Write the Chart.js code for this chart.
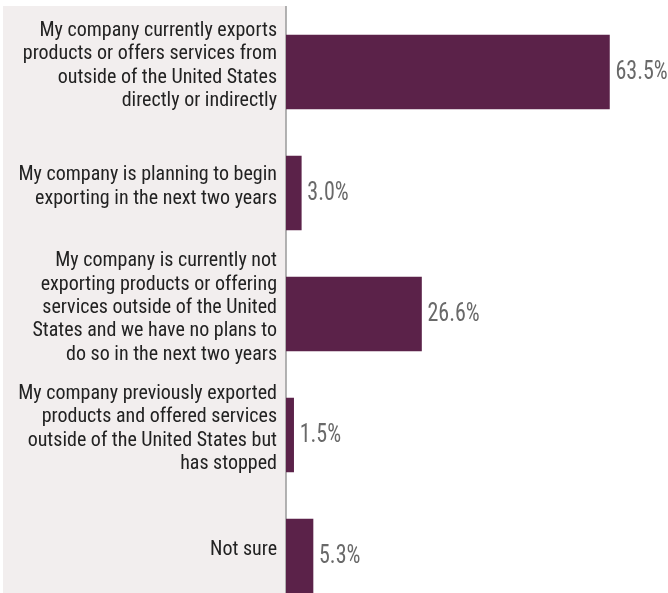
<!DOCTYPE html>
<html>
<head>
<meta charset="utf-8">
<script src="https://cdn.jsdelivr.net/npm/chart.js@4.4.1/dist/chart.umd.min.js"></script>
<style>
  html, body { margin: 0; padding: 0; background: #fff; overflow: hidden; }
  canvas { display: block; }
</style>
</head>
<body>
<canvas id="graph1" width="668" height="620"></canvas>
<script>
// survey answers, one array of lines per bar
const categories = [
  ["My company currently exports", "products or offers services from", "outside of the United States", "directly or indirectly"],
  ["My company is planning to begin", "exporting in the next two years"],
  ["My company is currently not", "exporting products or offering", "services outside of the United", "States and we have no plans to", "do so in the next two years"],
  ["My company previously exported", "products and offered services", "outside of the United States but", "has stopped"],
  ["Not sure"],
];
const shares = [63.5, 3.0, 26.6, 1.5, 5.3];

const barColor = "#5b2249";
const panelColor = "#f2eeee";
const fontFamily = "'Liberation Sans Narrow', 'Roboto Condensed', Roboto, sans-serif";

// grey panel behind the labels + the axis line
const panelPlugin = {
  id: "panel",
  beforeDraw(chart) {
    const ctx = chart.ctx;
    const area = chart.chartArea;
    ctx.save();
    ctx.fillStyle = panelColor;
    ctx.fillRect(3, 6, area.left - 3, chart.height - 6);
    ctx.strokeStyle = "#9a9a9a";
    ctx.lineWidth = 1.5;
    ctx.beginPath();
    ctx.moveTo(area.left, 6);
    ctx.lineTo(area.left, chart.height);
    ctx.stroke();
    ctx.restore();
  },
};

// percentage next to each bar (squeezed a bit, the face is condensed)
const valuePlugin = {
  id: "values",
  afterDatasetsDraw(chart) {
    const ctx = chart.ctx;
    const meta = chart.getDatasetMeta(0);
    ctx.save();
    ctx.fillStyle = "#696969";
    ctx.font = "25px " + fontFamily;
    ctx.textAlign = "left";
    ctx.textBaseline = "middle";
    meta.data.forEach((bar, i) => {
      ctx.save();
      ctx.translate(bar.x + 6, bar.y + 1);
      ctx.scale(0.88, 1);
      ctx.fillText(shares[i].toFixed(1) + "%", 0, 0);
      ctx.restore();
    });
    ctx.restore();
  },
};

const ctx = document.getElementById("graph1").getContext("2d");
const myChart = new Chart(ctx, {
  type: "bar",
  data: {
    labels: categories,
    datasets: [
      {
        data: shares,
        backgroundColor: barColor,
        borderWidth: 0,
        barThickness: 74,
      },
    ],
  },
  options: {
    indexAxis: "y",
    responsive: false,
    animation: false,
    layout: {
      padding: { top: 11.5, bottom: 3.5, left: 0, right: 0 },
    },
    plugins: {
      legend: { display: false },
      tooltip: { enabled: false },
    },
    scales: {
      x: {
        display: false,
        min: 0,
        max: 75,
      },
      y: {
        grid: { display: false, drawTicks: false },
        border: { display: false },
        afterFit(scale) {
          scale.width = 286;
          // labels may overhang the plot, don't let that shrink it
          scale.paddingTop = 0;
          scale.paddingBottom = 0;
        },
        ticks: {
          padding: 9,
          labelOffset: -6,
          color: "#222222",
          font: { family: fontFamily, size: 20, lineHeight: 1.165 },
        },
      },
    },
  },
  plugins: [panelPlugin, valuePlugin],
});
</script>
</body>
</html>
